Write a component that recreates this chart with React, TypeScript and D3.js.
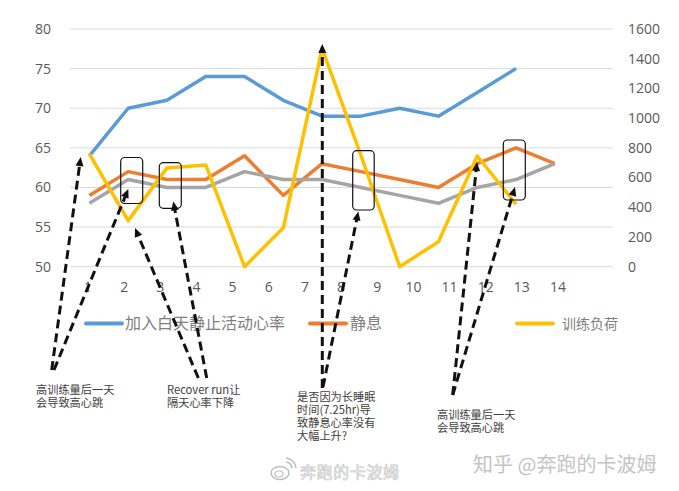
import React from "react";
import * as d3 from "d3";

const categories = [1, 2, 3, 4, 5, 6, 7, 8, 9, 10, 11, 12, 13, 14];
const activeHR = [64, 70, 71, 74, 74, 71, 69, 69, 70, 69, 72, 75];
const restingHR = [59, 62, 61, 61, 64, 59, 63, 62, 61, 60, 63, 65, 63];
const grayHR = [58, 61, 60, 60, 62, 61, 61, 60, 59, 58, 60, 61, 63];
const trainingLoad = [760, 310, 665, 685, 0, 262, 1470, 750, 0, 168, 745, 420];
const leftTicks = [50, 55, 60, 65, 70, 75, 80];
const rightTicks = [0, 200, 400, 600, 800, 1000, 1200, 1400, 1600];

const legendItems = [
  { name: "加入白天静止活动心率", color: "#5B9BD5", x1: 86, tx: 125, size: 16 },
  { name: "静息", color: "#ED7D31", x1: 310, tx: 350, size: 16 },
  { name: "训练负荷", color: "#FFC000", x1: 517, tx: 562, size: 14 },
];

// annotation layout (pixels)
const boxes = [
  { x: 120.7, y: 157.5, w: 22, h: 46 },
  { x: 159.3, y: 162.7, w: 22, h: 45.6 },
  { x: 352.7, y: 150.7, w: 21.5, h: 59.3 },
  { x: 503.3, y: 140, w: 22, h: 60 },
];
const arrows = [
  { x1: 51.7, y1: 370, x2: 80.7, y2: 157 },
  { x1: 54, y1: 370, x2: 128.3, y2: 189 },
  { x1: 198.3, y1: 378, x2: 135, y2: 228 },
  { x1: 206.7, y1: 378, x2: 173.3, y2: 201.5 },
  { x1: 322.3, y1: 388, x2: 322.3, y2: 44 },
  { x1: 323, y1: 387, x2: 358.3, y2: 211.5 },
  { x1: 452.7, y1: 395, x2: 477, y2: 162 },
  { x1: 452.7, y1: 395, x2: 515, y2: 187 },
];
const notes = [
  { x: 36, y: 394, lines: ["高训练量后一天", "会导致高心跳"] },
  { x: 167, y: 394, lines: ["Recover run让", "隔天心率下降"] },
  { x: 297, y: 401, lines: ["是否因为长睡眠", "时间(7.25hr)导", "致静息心率没有", "大幅上升?"] },
  { x: 437, y: 419, lines: ["高训练量后一天", "会导致高心跳"] },
];

const W = 679;
const H = 491;
const plotL = 70;
const plotR = 613;
const yTop = 29;
const yBot = 266.7;

export default function App() {
  const band = d3.scaleBand<number>().domain(categories).range([plotL, plotR]);
  const x = (i: number) => (band(categories[i]) as number) + band.bandwidth() / 2;
  const labelX = d3.scalePoint<number>().domain(categories).range([88, 558]);
  const yL = d3.scaleLinear().domain([50, 80]).range([yBot, yTop]);
  const yR = d3.scaleLinear().domain([0, 1600]).range([yBot, yTop]);

  const lineL = d3
    .line<number>()
    .x((_, i) => x(i))
    .y((d) => yL(d));
  const lineR = d3
    .line<number>()
    .x((_, i) => x(i))
    .y((d) => yR(d));

  const numFont = "'Open Sans', 'Noto Sans', sans-serif";
  const cjk = "'Noto Sans CJK SC', 'Noto Sans', sans-serif";

  const arrowHead = (a: { x1: number; y1: number; x2: number; y2: number }, k: number) => {
    const ang = Math.atan2(a.y2 - a.y1, a.x2 - a.x1);
    const L = 9;
    const Wd = 4;
    const bx = a.x2 - L * Math.cos(ang);
    const by = a.y2 - L * Math.sin(ang);
    const px = -Math.sin(ang) * Wd;
    const py = Math.cos(ang) * Wd;
    return (
      <path
        key={"h" + k}
        d={`M${a.x2},${a.y2}L${bx + px},${by + py}L${bx - px},${by - py}Z`}
        fill="#111"
      />
    );
  };

  return (
    <svg
      width={W}
      height={H}
      style={{ position: "absolute", left: 0, top: 0, background: "#fff" }}
    >
      {/* gridlines */}
      {leftTicks.map((t) => (
        <line key={"g" + t} x1={plotL} x2={plotR} y1={yL(t)} y2={yL(t)} stroke="#D9D9D9" strokeWidth={1} />
      ))}
      {/* left axis labels */}
      {leftTicks.map((t) => (
        <text key={"l" + t} x={51} y={yL(t)} dy="0.35em" textAnchor="end" fontSize={14} fill="#595959" fontFamily={numFont}>
          {t}
        </text>
      ))}
      {/* right axis labels */}
      {rightTicks.map((t) => (
        <text key={"r" + t} x={628} y={yR(t)} dy="0.35em" textAnchor="start" fontSize={14} fill="#595959" fontFamily={numFont}>
          {t}
        </text>
      ))}
      {/* x labels */}
      {categories.map((c) => (
        <text key={"x" + c} x={labelX(c)} y={287} dy="0.35em" textAnchor="middle" fontSize={14} fill="#595959" fontFamily={numFont}>
          {c}
        </text>
      ))}

      {/* series */}
      <path d={lineL(activeHR) || ""} fill="none" stroke="#5B9BD5" strokeWidth={3.5} strokeLinejoin="round" />
      <path d={lineL(restingHR) || ""} fill="none" stroke="#ED7D31" strokeWidth={3.5} strokeLinejoin="round" />
      <path d={lineL(grayHR) || ""} fill="none" stroke="#A5A5A5" strokeWidth={3.5} strokeLinejoin="round" />
      <path d={lineR(trainingLoad) || ""} fill="none" stroke="#FFC000" strokeWidth={3.5} strokeLinejoin="round" />

      {/* legend */}
      {legendItems.map((l) => (
        <g key={l.name}>
          <line x1={l.x1} x2={l.x1 + 36} y1={323.5} y2={323.5} stroke={l.color} strokeWidth={4} strokeLinecap="round" />
          <text x={l.tx} y={323.5} dy="0.36em" fontSize={l.size} fill="#7F7F7F" fontFamily={cjk}>
            {l.name}
          </text>
        </g>
      ))}

      {/* boxes */}
      {boxes.map((b, i) => (
        <rect key={"b" + i} x={b.x} y={b.y} width={b.w} height={b.h} rx={4} fill="none" stroke="#111" strokeWidth={1.2} />
      ))}
      {/* arrows */}
      {arrows.map((a, i) => {
        const ang = Math.atan2(a.y2 - a.y1, a.x2 - a.x1);
        const ex = a.x2 - 7 * Math.cos(ang);
        const ey = a.y2 - 7 * Math.sin(ang);
        return (
          <g key={"a" + i}>
            <line x1={a.x1} y1={a.y1} x2={ex} y2={ey} stroke="#111" strokeWidth={3} strokeDasharray="9 5" />
            {arrowHead(a, i)}
          </g>
        );
      })}

      {/* notes */}
      {notes.map((n, i) => (
        <text key={"n" + i} x={n.x} y={n.y} fontSize={11.2} fill="#404040" fontFamily={cjk}>
          {n.lines.map((ln, j) => (
            <tspan key={j} x={n.x} dy={j === 0 ? 0 : 13}>
              {ln}
            </tspan>
          ))}
        </text>
      ))}

      {/* watermarks */}
      <g opacity={0.8}>
        <ellipse cx={280} cy={473} rx={9} ry={6.5} fill="none" stroke="#b0b0b0" strokeWidth={1.5} />
        <ellipse cx={279} cy={474} rx={4} ry={3} fill="none" stroke="#b0b0b0" strokeWidth={1.2} />
        <path d="M286,462 A7,7 0 0 1 292,468" fill="none" stroke="#b0b0b0" strokeWidth={1.5} />
        <path d="M286,458 A11,11 0 0 1 296,468" fill="none" stroke="#b0b0b0" strokeWidth={1.5} />
        <text x={300} y={472} dy="0.35em" fontSize={16} fill="#f6f6f6" stroke="#bdbdbd" strokeWidth={0.7} fontFamily={cjk} letterSpacing={0.6}>
          奔跑的卡波姆
        </text>
      </g>
      <text x={473} y={465} dy="0.35em" fontSize={20} fill="#c4c4c4" fontFamily={cjk}>
        知乎 @奔跑的卡波姆
      </text>
    </svg>
  );
}
